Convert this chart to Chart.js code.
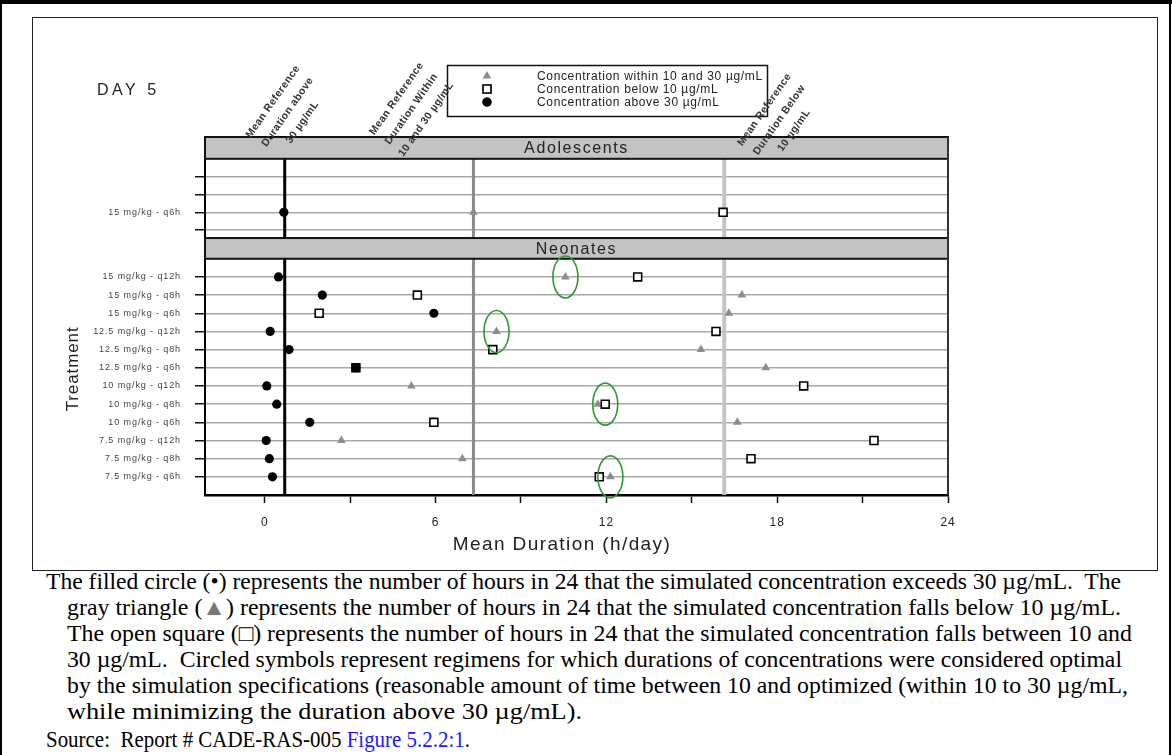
<!DOCTYPE html>
<html><head><meta charset="utf-8">
<script src="https://cdn.jsdelivr.net/npm/chart.js@4.4.1/dist/chart.umd.min.js"></script>
<style>
html,body{margin:0;padding:0;background:#fff;}
body{width:1172px;height:755px;position:relative;overflow:hidden;}
.fr{position:absolute;background:#000;}
#box{position:absolute;left:32px;top:17px;width:1124px;height:552px;border:1px solid #222;}
#wrap{position:absolute;left:0;top:0;width:1172px;height:560px;}
.cap{position:absolute;font-family:"Liberation Serif","Times New Roman",serif;font-size:22.5px;white-space:nowrap;color:#000;transform-origin:0 50%;line-height:26px;}
.cap .blue{color:#1a1aff;}
</style></head>
<body>
<div class="fr" style="left:0;top:0;width:1172px;height:4px"></div>
<div class="fr" style="left:0;top:0;width:2px;height:755px"></div>
<div class="fr" style="left:1169px;top:0;width:2px;height:755px"></div>
<div id="box"></div>
<div id="wrap"><canvas id="c" width="1172" height="560"></canvas></div>
<div class="cap" style="left:46px;top:569px" data-w="1075">The filled circle (•) represents the number of hours in 24 that the simulated concentration exceeds 30 µg/mL.&nbsp; The</div>
<div class="cap" style="left:67px;top:595px" data-w="1054">gray triangle (<span style="color:#777">▲</span>) represents the number of hours in 24 that the simulated concentration falls below 10 µg/mL.</div>
<div class="cap" style="left:67px;top:621px" data-w="1065">The open square (□) represents the number of hours in 24 that the simulated concentration falls between 10 and</div>
<div class="cap" style="left:67px;top:647px" data-w="1055">30 µg/mL.&nbsp; Circled symbols represent regimens for which durations of concentrations were considered optimal</div>
<div class="cap" style="left:67px;top:673px" data-w="1061">by the simulation specifications (reasonable amount of time between 10 and optimized (within 10 to 30 µg/mL,</div>
<div class="cap" style="left:67px;top:699px" data-w="515">while minimizing the duration above 30 µg/mL).</div>
<div class="cap" style="left:46px;top:727px" data-w="424">Source:&nbsp; Report # CADE-RAS-005 <span class="blue">Figure 5.2.2:1</span>.</div>
<script>
// ---------------- DATA ----------------
const neonateRegimens = [
  "15 mg/kg - q12h", "15 mg/kg - q8h", "15 mg/kg - q6h",
  "12.5 mg/kg - q12h", "12.5 mg/kg - q8h", "12.5 mg/kg - q6h",
  "10 mg/kg - q12h", "10 mg/kg - q8h", "10 mg/kg - q6h",
  "7.5 mg/kg - q12h", "7.5 mg/kg - q8h", "7.5 mg/kg - q6h"
];
// hours/day (gray triangles)
const neonateWithin10to30 = [10.56, 16.76, 16.3, 8.14, 15.32, 17.6, 5.15, 11.7, 16.6, 2.69, 6.94, 12.14];
// hours/day (open squares)
const neonateBelow10 = [13.1, 5.36, 1.91, 15.85, 8.01, 3.2, 18.93, 11.96, 5.94, 21.4, 17.08, 11.75];
// hours/day (filled circles)
const neonateAbove30 = [0.48, 2.02, 5.94, 0.19, 0.85, 3.2, 0.07, 0.42, 1.58, 0.05, 0.16, 0.27];

// adolescent panel slots, bottom to top
const adolescentSlots = ["", "15 mg/kg - q6h", "", ""];
const adolescentRegimens = ["15 mg/kg - q6h"];
const adolescentWithin10to30 = [7.33];
const adolescentBelow10 = [16.1];
const adolescentAbove30 = [0.67];

const referenceDurations = [0.7, 7.33, 16.14];
const referenceLabels = [
  ["Mean Reference", "Duration above", "30 µg/mL"],
  ["Mean Reference", "Duration Within", "10 and 30 µg/mL"],
  ["Mean Reference", "Duration Below", "10 µg/mL"]
];
const circled = [
  { regimen: "15 mg/kg - q12h", series: "within" },
  { regimen: "12.5 mg/kg - q12h", series: "within" },
  { regimen: "10 mg/kg - q8h", series: "below" },
  { regimen: "7.5 mg/kg - q6h", series: "within" }
];
const xTickValues = [0, 3, 6, 9, 12, 15, 18, 21, 24];
const xAxisTitle = "Mean Duration (h/day)";
const yAxisTitle = "Treatment";
const legendLabels = ["Concentration within 10 and 30 µg/mL", "Concentration below 10 µg/mL", "Concentration above 30 µg/mL"];
const panelTitles = ["Adolescents", "Neonates"];

// ---------------- LAYOUT (row positions on the y scale) ----------------
const nRows = neonateRegimens.length;
const neoY = i => nRows - i;              // 12 .. 1
const ADOL_BASE = 14.58, ADOL_STEP = 0.975;
const adolY = k => ADOL_BASE + k * ADOL_STEP;
const NEO_BAND = [13.0, 14.14];
const ADOL_BAND = [18.5, 19.7];
const Y_MAX = 19.7;

const yTickPos = [], yTickLab = [];
neonateRegimens.forEach((r, i) => { yTickPos.push(neoY(i)); yTickLab.push(r); });
adolescentSlots.forEach((r, k) => { yTickPos.push(adolY(k)); yTickLab.push(r); });
const adolRowY = r => adolY(adolescentSlots.indexOf(r));

function pts(neoVals, adolVals) {
  const out = neoVals.map((v, i) => ({ x: v, y: neoY(i) }));
  adolVals.forEach((v, j) => out.push({ x: v, y: adolRowY(adolescentRegimens[j]) }));
  return out;
}

const FONT = "'Liberation Sans', Arial, sans-serif";

const decor = {
  id: 'decor',
  beforeDraw(chart) {
    chart.ctx.letterSpacing = '0.9px';
  },
  beforeDatasetsDraw(chart) {
    const { ctx, chartArea: a, scales: { x, y } } = chart;
    ctx.letterSpacing = '0px';
    ctx.save();
    const refStyles = [{ c: '#000', w: 3 }, { c: '#8a8a8a', w: 3 }, { c: '#c4c4c4', w: 4 }];
    referenceDurations.forEach((v, i) => {
      const px = x.getPixelForValue(v);
      ctx.strokeStyle = refStyles[i].c; ctx.lineWidth = refStyles[i].w;
      ctx.beginPath(); ctx.moveTo(px, a.top); ctx.lineTo(px, a.bottom); ctx.stroke();
    });
    [ADOL_BAND, NEO_BAND].forEach((b, i) => {
      const t = y.getPixelForValue(b[1]), btm = y.getPixelForValue(b[0]);
      ctx.fillStyle = '#c3c3c3';
      ctx.fillRect(a.left, t, a.right - a.left, btm - t);
      ctx.strokeStyle = '#111'; ctx.lineWidth = 2;
      ctx.strokeRect(a.left, t, a.right - a.left, btm - t);
      ctx.fillStyle = '#222'; ctx.font = '16px ' + FONT;
      ctx.letterSpacing = '1.6px';
      ctx.textAlign = 'center'; ctx.textBaseline = 'middle';
      ctx.fillText(panelTitles[i], (a.left + a.right) / 2, (t + btm) / 2 + 1);
      ctx.letterSpacing = '0px';
    });
    ctx.strokeStyle = '#333'; ctx.lineWidth = 2;
    ctx.beginPath(); ctx.moveTo(a.right, a.top); ctx.lineTo(a.right, a.bottom); ctx.stroke();
    ctx.restore();
  },
  afterDatasetsDraw(chart) {
    const { ctx, scales: { x, y } } = chart;
    ctx.save();
    ctx.strokeStyle = '#2e9a2e'; ctx.lineWidth = 1.6;
    circled.forEach(c => {
      const i = neonateRegimens.indexOf(c.regimen);
      const v = c.series === 'within' ? neonateWithin10to30[i] : c.series === 'below' ? neonateBelow10[i] : neonateAbove30[i];
      ctx.beginPath();
      ctx.ellipse(x.getPixelForValue(v), y.getPixelForValue(neoY(i)), 12.5, 21, 0, 0, Math.PI * 2);
      ctx.stroke();
    });
    ctx.restore();
  },
  afterDraw(chart) {
    const { ctx, chartArea: a, scales: { x, y } } = chart;
    ctx.save();
    // DAY 5
    ctx.fillStyle = '#222'; ctx.font = '16px ' + FONT; ctx.letterSpacing = '3.5px';
    ctx.textAlign = 'left'; ctx.textBaseline = 'middle';
    ctx.fillText('DAY 5', 97, 91);
    // x axis title
    ctx.font = '19px ' + FONT; ctx.letterSpacing = '1.4px'; ctx.textAlign = 'center';
    ctx.fillText(xAxisTitle, 562, a.bottom + 50);
    ctx.letterSpacing = '0px';
    // y axis title
    ctx.save();
    ctx.translate(73, (y.getPixelForValue(NEO_BAND[0]) + a.bottom) / 2 - 8);
    ctx.rotate(-Math.PI / 2);
    ctx.font = '17px ' + FONT; ctx.letterSpacing = '0.9px';
    ctx.textAlign = 'center'; ctx.textBaseline = 'middle';
    ctx.fillText(yAxisTitle, 0, 0);
    ctx.restore();
    ctx.letterSpacing = '0px';
    // legend
    const L = { x: 447, y: 65, w: 320, h: 51 };
    ctx.fillStyle = '#fff'; ctx.fillRect(L.x, L.y, L.w, L.h);
    ctx.strokeStyle = '#111'; ctx.lineWidth = 1.5;
    ctx.strokeRect(L.x + 0.5, L.y + 0.5, L.w, L.h);
    const ds = chart.data.datasets;
    const legOrder = [2, 1, 0];
    legOrder.forEach((di, k) => {
      const d = ds[di], my = L.y + 11 + k * 13;
      Chart.helpers.drawPoint(ctx, {
        pointStyle: d.pointStyle, radius: d.pointRadius, borderWidth: d.borderWidth, rotation: 0
      }, 487, my);
      ctx.fillStyle = d.backgroundColor; ctx.strokeStyle = d.borderColor; ctx.lineWidth = d.borderWidth;
      ctx.fill(); if (d.borderWidth) ctx.stroke();
      ctx.fillStyle = '#222'; ctx.font = '12px ' + FONT; ctx.letterSpacing = '0.65px';
      ctx.textAlign = 'left'; ctx.textBaseline = 'middle';
      ctx.fillText(legendLabels[k], 537, my + 1);
      ctx.letterSpacing = '0px';
    });
    // reference labels (drawn over the legend border, as in the original)
    const offs = [{ dx: 3, dy: -25 }, { dx: -62, dy: -28 }, { dx: 55, dy: -17 }];
    referenceDurations.forEach((v, i) => {
      const cx = x.getPixelForValue(v) + offs[i].dx, cy = a.top + offs[i].dy;
      ctx.save();
      ctx.translate(cx, cy);
      ctx.rotate(-55 * Math.PI / 180);
      ctx.font = 'bold 10.5px ' + FONT; ctx.fillStyle = '#333'; ctx.letterSpacing = '0.4px';
      ctx.textAlign = 'center'; ctx.textBaseline = 'middle';
      referenceLabels[i].forEach((t, k) => ctx.fillText(t, 0, (k - 1) * 18));
      ctx.restore();
    });
    ctx.restore();
  }
};

new Chart(document.getElementById('c'), {
  type: 'scatter',
  data: {
    datasets: [
      { label: legendLabels[2], data: pts(neonateAbove30, adolescentAbove30), pointStyle: 'circle', pointRadius: 4.6,
        backgroundColor: '#000', borderColor: '#000', borderWidth: 0 },
      { label: legendLabels[1], data: pts(neonateBelow10, adolescentBelow10), pointStyle: 'rect', pointRadius: 5.6,
        backgroundColor: '#fff', borderColor: '#000', borderWidth: 1.6 },
      { label: legendLabels[0], data: pts(neonateWithin10to30, adolescentWithin10to30), pointStyle: 'triangle', pointRadius: 5,
        backgroundColor: '#8c8c8c', borderColor: '#8c8c8c', borderWidth: 0 }
    ]
  },
  options: {
    responsive: false, animation: false,
    layout: { padding: { left: 63, top: 137, right: 224, bottom: 6 } },
    plugins: { legend: { display: false }, tooltip: { enabled: false } },
    scales: {
      x: {
        type: 'linear', min: -2.1, max: 24,
        afterBuildTicks: s => { s.ticks = xTickValues.map(v => ({ value: v })); },
        afterFit: s => { s.height = 59; },
        ticks: { callback: v => (v % 6 === 0 ? String(v) : ''), autoSkip: false, maxRotation: 0,
          font: { family: FONT, size: 12 }, color: '#222', padding: 12 },
        grid: { drawOnChartArea: false, drawTicks: true, tickLength: 8, tickColor: '#111', tickWidth: 1.5 },
        border: { display: true, color: '#000', width: 2.5 },
        title: { display: false }
      },
      y: {
        type: 'linear', min: 0, max: Y_MAX,
        afterBuildTicks: s => { s.ticks = yTickPos.map(v => ({ value: v })); },
        afterFit: s => { s.width = 142; },
        ticks: { callback: (v, i) => yTickLab[i], autoSkip: false,
          font: { family: FONT, size: 9 }, color: '#444', padding: 14 },
        grid: { color: '#a8a8a8', lineWidth: 1.5, tickLength: 10, tickColor: '#111', tickWidth: 1.5 },
        border: { display: true, color: '#000', width: 2 }
      }
    }
  },
  plugins: [decor]
});

document.querySelectorAll('.cap').forEach(el => {
  const w = el.getBoundingClientRect().width;
  const t = +el.dataset.w;
  el.style.transform = 'scaleX(' + (t / w) + ')';
});
</script>
</body></html>
